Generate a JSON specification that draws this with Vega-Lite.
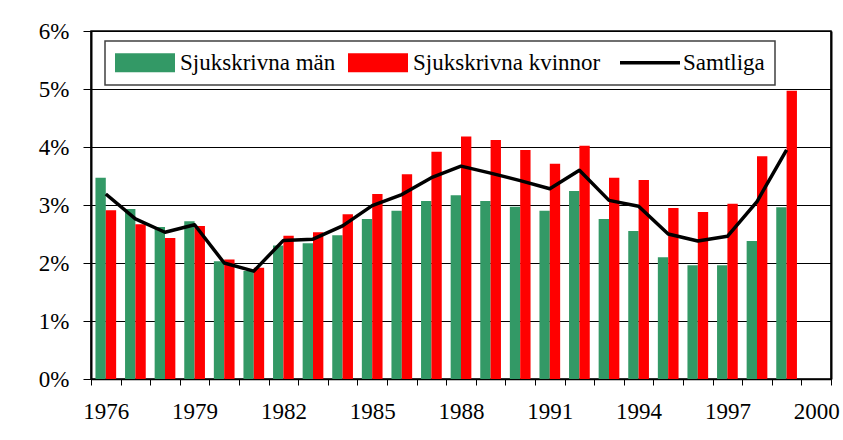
{
  "$schema": "https://vega.github.io/schema/vega-lite/v6.json",
  "autosize": {"type": "none"},
  "padding": {"left": 91, "top": 31, "right": 12, "bottom": 61},
  "width": 740,
  "height": 348,
  "background": "white",
  "config": {
    "font": "Liberation Serif, serif",
    "view": {"stroke": "black", "strokeWidth": 1.5},
    "axis": {"labelFont": "Liberation Serif, serif", "labelFontSize": 23, "labelColor": "black", "domainColor": "black", "tickColor": "black", "gridColor": "black", "title": null}
  },
  "resolve": {"axis": {"y": "independent"}},
  "data": {
    "values": [
      {"year": 1976, "Sjukskrivna män": 3.47, "Sjukskrivna kvinnor": 2.91, "Samtliga": 3.19},
      {"year": 1977, "Sjukskrivna män": 2.93, "Sjukskrivna kvinnor": 2.67, "Samtliga": 2.76},
      {"year": 1978, "Sjukskrivna män": 2.62, "Sjukskrivna kvinnor": 2.43, "Samtliga": 2.53},
      {"year": 1979, "Sjukskrivna män": 2.72, "Sjukskrivna kvinnor": 2.64, "Samtliga": 2.66},
      {"year": 1980, "Sjukskrivna män": 2.03, "Sjukskrivna kvinnor": 2.06, "Samtliga": 2.00},
      {"year": 1981, "Sjukskrivna män": 1.86, "Sjukskrivna kvinnor": 1.92, "Samtliga": 1.86},
      {"year": 1982, "Sjukskrivna män": 2.30, "Sjukskrivna kvinnor": 2.47, "Samtliga": 2.39},
      {"year": 1983, "Sjukskrivna män": 2.34, "Sjukskrivna kvinnor": 2.53, "Samtliga": 2.41},
      {"year": 1984, "Sjukskrivna män": 2.48, "Sjukskrivna kvinnor": 2.84, "Samtliga": 2.64},
      {"year": 1985, "Sjukskrivna män": 2.76, "Sjukskrivna kvinnor": 3.19, "Samtliga": 2.99},
      {"year": 1986, "Sjukskrivna män": 2.90, "Sjukskrivna kvinnor": 3.53, "Samtliga": 3.18},
      {"year": 1987, "Sjukskrivna män": 3.07, "Sjukskrivna kvinnor": 3.92, "Samtliga": 3.47},
      {"year": 1988, "Sjukskrivna män": 3.17, "Sjukskrivna kvinnor": 4.18, "Samtliga": 3.67},
      {"year": 1989, "Sjukskrivna män": 3.07, "Sjukskrivna kvinnor": 4.12, "Samtliga": 3.55},
      {"year": 1990, "Sjukskrivna män": 2.97, "Sjukskrivna kvinnor": 3.95, "Samtliga": 3.42},
      {"year": 1991, "Sjukskrivna män": 2.90, "Sjukskrivna kvinnor": 3.71, "Samtliga": 3.28},
      {"year": 1992, "Sjukskrivna män": 3.24, "Sjukskrivna kvinnor": 4.02, "Samtliga": 3.60},
      {"year": 1993, "Sjukskrivna män": 2.76, "Sjukskrivna kvinnor": 3.47, "Samtliga": 3.08},
      {"year": 1994, "Sjukskrivna män": 2.55, "Sjukskrivna kvinnor": 3.43, "Samtliga": 2.98},
      {"year": 1995, "Sjukskrivna män": 2.10, "Sjukskrivna kvinnor": 2.95, "Samtliga": 2.50},
      {"year": 1996, "Sjukskrivna män": 1.96, "Sjukskrivna kvinnor": 2.88, "Samtliga": 2.38},
      {"year": 1997, "Sjukskrivna män": 1.96, "Sjukskrivna kvinnor": 3.02, "Samtliga": 2.46},
      {"year": 1998, "Sjukskrivna män": 2.38, "Sjukskrivna kvinnor": 3.84, "Samtliga": 3.06},
      {"year": 1999, "Sjukskrivna män": 2.96, "Sjukskrivna kvinnor": 4.97, "Samtliga": 3.95}
    ]
  },
  "layer": [
    {
      "transform": [{"fold": ["Sjukskrivna män", "Sjukskrivna kvinnor"], "as": ["serie", "andel"]}],
      "mark": {"type": "bar"},
      "encoding": {
        "x": {
          "field": "year", "type": "ordinal",
          "scale": {"domain": [1976,1977,1978,1979,1980,1981,1982,1983,1984,1985,1986,1987,1988,1989,1990,1991,1992,1993,1994,1995,1996,1997,1998,1999,2000], "paddingInner": 0, "paddingOuter": 0},
          "axis": {"labelAngle": 0, "tickBand": "extent", "tickSize": 6, "tickWidth": 1, "domainWidth": 1.5, "labelPadding": 15, "labelExpr": "(datum.value - 1976) % 3 === 0 ? datum.label : ''", "grid": false}
        },
        "xOffset": {"field": "serie", "type": "nominal", "sort": ["Sjukskrivna män", "Sjukskrivna kvinnor"], "scale": {"paddingInner": 0, "paddingOuter": 0.43}},
        "y": {
          "field": "andel", "type": "quantitative",
          "scale": {"domain": [0, 6], "nice": false},
          "axis": {"values": [0,1,2,3,4,5,6], "labelExpr": "datum.value + '%'", "tickSize": 8, "tickWidth": 1, "domainWidth": 2, "labelPadding": 14, "grid": true, "gridWidth": 1, "gridOpacity": 1}
        },
        "color": {
          "field": "serie", "type": "nominal",
          "scale": {"domain": ["Sjukskrivna män", "Sjukskrivna kvinnor", "Samtliga"], "range": ["#339966", "#FF0000", "#000000"]},
          "legend": {
            "title": null,
            "orient": "none",
            "legendX": 14,
            "legendY": 10,
            "direction": "horizontal",
            "columns": 3,
            "fillColor": "white",
            "strokeColor": "#404040",
            "padding": 10,
            "columnPadding": 12,
            "symbolSize": 400,
            "symbolOffset": 0,
            "labelOffset": 0,
            "labelFont": "Liberation Serif, serif",
            "labelFontSize": 23,
            "labelColor": "black",
            "labelLimit": 400,
            "encode": {
              "legend": {"update": {"strokeWidth": {"value": 1.5}}},
              "symbols": {
                "update": {
                  "x": {"value": 30},
                  "shape": {"signal": "datum.value === 'Samtliga' ? 'M-3,0H3' : 'M-3,-0.95H3V0.95H-3Z'"},
                  "fill": {"signal": "datum.value === 'Samtliga' ? 'transparent' : (datum.value === 'Sjukskrivna män' ? '#339966' : '#FF0000')"},
                  "stroke": {"signal": "datum.value === 'Samtliga' ? '#000000' : 'transparent'"},
                  "strokeWidth": {"signal": "datum.value === 'Samtliga' ? 3.5 : 0"},
                  "opacity": {"value": 1}
                }
              },
              "labels": {
                "update": {
                  "x": {"signal": "datum.value === 'Samtliga' ? 63 : 65"}
                }
              }
            }
          }
        }
      }
    },
    {
      "mark": {"type": "line", "strokeWidth": 3.5, "strokeJoin": "round"},
      "encoding": {
        "x": {"field": "year", "type": "ordinal"},
        "y": {"field": "Samtliga", "type": "quantitative", "axis": {"orient": "right", "labels": false, "ticks": false, "grid": false, "domain": true, "domainWidth": 2, "domainColor": "black"}},
        "color": {"datum": "Samtliga", "type": "nominal"}
      }
    }
  ]
}
